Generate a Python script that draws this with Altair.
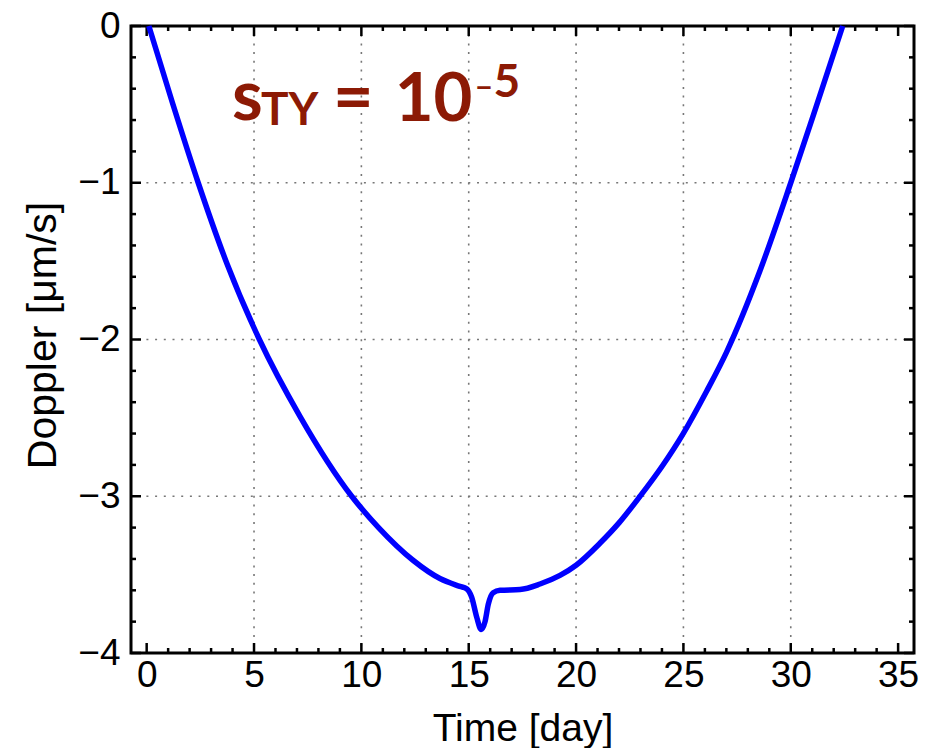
import altair as alt
import pandas as pd

# ---- data ----
day = [0.10, 1.20, 2.40, 3.75, 5.25, 7.14, 9.55, 10.80, 12.42,
       13.66, 14.59, 14.90, 15.14, 15.37, 15.58, 15.76, 15.91, 16.14, 16.46,
       17.39, 18.32, 19.25, 20.00, 21.11, 22.00, 22.98, 24.00, 24.99, 26.08, 27.01,
       28.57, 30.00, 31.05, 32.42]
doppler = [0.0, -0.49, -1.00, -1.52, -2.00, -2.49, -3.00, -3.20, -3.41,
           -3.525, -3.575, -3.59, -3.645, -3.77, -3.85, -3.80, -3.69, -3.615, -3.60,
           -3.595, -3.56, -3.505, -3.44, -3.30, -3.17, -3.00, -2.81, -2.60, -2.33, -2.08,
           -1.56, -1.00, -0.57, 0.0]

x_labels = [0, 5, 10, 15, 20, 25, 30, 35]
y_labels = [0, -1, -2, -3, -4]
x_grid = [5, 10, 15, 20, 25, 30]
y_grid = [-1, -2, -3]
x_minor = [v for v in range(0, 36) if v % 5 != 0]
y_minor = [round(-0.2 * k, 1) for k in range(0, 21) if k % 5 != 0]

ann_text = ["s", "TY", "=", "10", "\u2212", "5"]
ann_x = [3.97, 5.32, 8.68, 11.55, 15.30, 16.15]
ann_y = [-0.60, -0.632, -0.606, -0.606, -0.46, -0.453]
ann_size = [70, 46, 70, 67, 30, 46]

W, H = 783, 627
XDOM = [-0.73, 35.74]
YDOM = [-4, 0]

xs = alt.Scale(domain=XDOM, nice=False, zero=False)
ys = alt.Scale(domain=YDOM, nice=False, zero=False)

AX = alt.Axis(values=x_labels, title="Time [day]", grid=False, ticks=False,
              domain=False, labelFontSize=37, labelFont="Liberation Sans",
              labelColor="black", labelPadding=4, labelFlush=False,
              titleFontSize=39, titleFont="Liberation Sans",
              titleFontWeight="normal", titleColor="black",
              titleY=87, titleBaseline="alphabetic")
AY = alt.Axis(values=y_labels, title="Doppler [μm/s]", grid=False, ticks=False,
              domain=False, labelFontSize=37, labelFont="Liberation Sans",
              labelColor="black", labelPadding=11, labelFlush=False,
              titleFontSize=41, titleFont="Liberation Sans",
              titleFontWeight="normal", titleColor="black",
              titleX=-88, titleY=309, titleAngle=-90,
              titleBaseline="middle", titleAlign="center")

curve = pd.DataFrame({"day": day, "doppler": doppler})

line = alt.Chart(curve).mark_line(color="#0000ff", strokeWidth=5.5, interpolate="monotone").encode(
    x=alt.X("day:Q", scale=xs, axis=AX),
    y=alt.Y("doppler:Q", scale=ys, axis=AY),
)

grid_style = dict(color="#777777", strokeWidth=1.6, strokeDash=[2, 6.7])
gx = alt.Chart(pd.DataFrame({"g": x_grid})).mark_rule(**grid_style).encode(
    x=alt.X("g:Q", scale=xs, axis=AX))
gy = alt.Chart(pd.DataFrame({"g": y_grid})).mark_rule(**grid_style).encode(
    y=alt.Y("g:Q", scale=ys, axis=AY))

def xticks(vals, length):
    df = pd.DataFrame({"t": vals})
    base = alt.Chart(df).mark_rule(color="black", strokeWidth=2.5)
    bot = base.encode(x=alt.X("t:Q", scale=xs, axis=AX), y=alt.value(H), y2=alt.value(H - length))
    top = base.encode(x=alt.X("t:Q", scale=xs, axis=AX), y=alt.value(0), y2=alt.value(length))
    return [bot, top]

def yticks(vals, length):
    df = pd.DataFrame({"t": vals})
    base = alt.Chart(df).mark_rule(color="black", strokeWidth=2.5)
    left = base.encode(y=alt.Y("t:Q", scale=ys, axis=AY), x=alt.value(0), x2=alt.value(length))
    right = base.encode(y=alt.Y("t:Q", scale=ys, axis=AY), x=alt.value(W), x2=alt.value(W - length))
    return [left, right]

ticks = xticks(x_labels, 10) + xticks(x_minor, 5) + yticks(y_labels, 10) + yticks(y_minor, 5)

ann = pd.DataFrame({"text": ann_text, "x": ann_x, "y": ann_y, "fs": ann_size})
label = alt.Chart(ann).mark_text(align="left", baseline="alphabetic", font="Lato",
                                 fontWeight="bold", color="#8C1A05").encode(
    x=alt.X("x:Q", scale=xs, axis=AX),
    y=alt.Y("y:Q", scale=ys, axis=AY),
    text="text:N",
    size=alt.Size("fs:Q", scale=None, legend=None),
)

chart = alt.layer(gx, gy, *ticks, line, label).properties(
    width=W, height=H,
    background="white",
    autosize=alt.AutoSizeParams(type="none"),
    padding={"left": 131, "top": 26, "right": 21, "bottom": 95},
).configure_view(stroke="black", strokeWidth=3)

chart.save("out.html", embed_options={"renderer": "svg", "actions": False})
